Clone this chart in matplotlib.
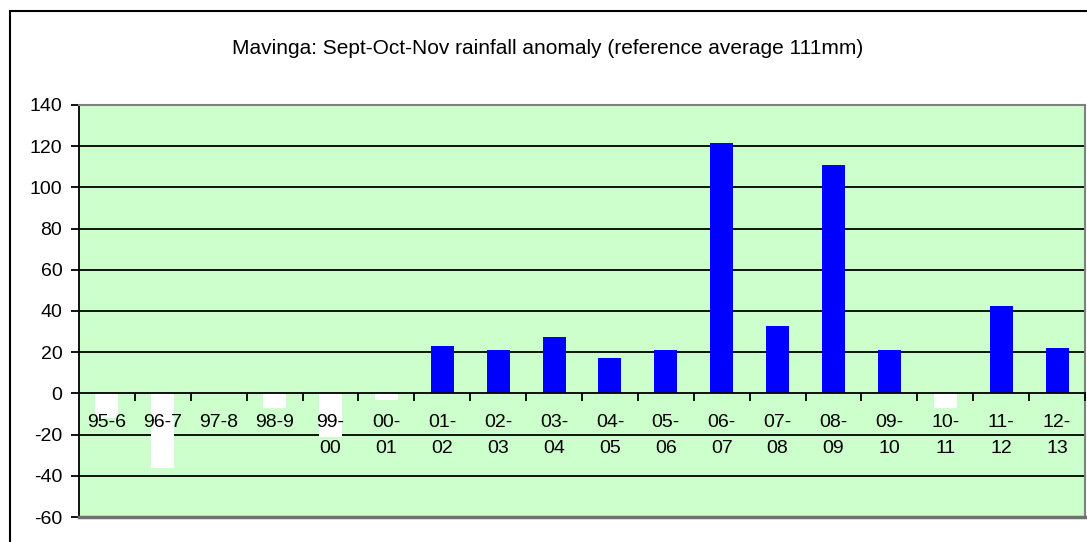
import matplotlib
matplotlib.use("Agg")
import matplotlib.pyplot as plt
from matplotlib.patches import Rectangle
import numpy as np

plt.rcParams["font.family"] = ["Liberation Sans", "DejaVu Sans"]
plt.rcParams["axes.unicode_minus"] = False

seasons = ["95-6", "96-7", "97-8", "98-9", "99-\n00", "00-\n01", "01-\n02", "02-\n03",
           "03-\n04", "04-\n05", "05-\n06", "06-\n07", "07-\n08", "08-\n09", "09-\n10",
           "10-\n11", "11-\n12", "12-\n13"]
anomaly = [-12, -36, 0, -7, -21, -3, 23, 21, 27.5, 17, 21, 121.5, 32.5, 111, 21, -7, 42.5, 22]
yticks = list(range(-60, 141, 20))

fig = plt.figure(figsize=(10.87, 5.42), dpi=100)
ax = fig.add_axes([79 / 1087, 25 / 542, 1006 / 1087, 412 / 542])
ax.set_facecolor("#ccffcc")

x = np.arange(len(seasons))
colors = ["#0000ff" if v > 0 else "white" for v in anomaly]
ax.bar(x, anomaly, width=0.41, color=colors, zorder=3)

ax.set_xlim(-0.5, len(seasons) - 0.5)
ax.set_ylim(-60, 140)
ax.set_yticks(yticks)
for y in yticks[1:-1]:
    if y != 0:
        ax.axhline(y, color="black", lw=1.3, zorder=2)

# category axis sits on the zero line
ax.spines["bottom"].set_position(("data", 0))
ax.spines["bottom"].set_color("black")
ax.spines["bottom"].set_linewidth(1.3)
ax.spines["bottom"].set_zorder(4)
ax.spines["left"].set_color("black")
ax.spines["left"].set_linewidth(1.3)
for s in ["top", "right"]:
    ax.spines[s].set_color("#808080")
    ax.spines[s].set_linewidth(1.5)
# grey frame along the bottom of the plot area
ax.axhline(-60, color="#707070", lw=2.5, zorder=5, clip_on=False)

ax.set_xticks(x + 0.5, minor=False)
ax.set_xticklabels([])
ax.set_xticks(x, minor=True)
ax.set_xticklabels(seasons, minor=True, fontsize=14, linespacing=1.65)
ax.tick_params(axis="x", which="major", direction="out", length=6, width=1.3, color="black")
ax.tick_params(axis="x", which="minor", length=0, pad=15)
ax.tick_params(axis="y", direction="out", length=6, width=1.3, labelsize=14, pad=6)
ax.xaxis.set_zorder(6)

fig.text(548 / 1087, 1 - 48 / 542,
         "Mavinga: Sept-Oct-Nov rainfall anomaly (reference average 111mm)",
         ha="center", va="center", fontsize=15)

fig.add_artist(Rectangle((10 / 1087, -0.1), 1.2, 1.1 - 11 / 542, transform=fig.transFigure,
                         fill=False, edgecolor="black", lw=1.5))

fig.savefig("out.png", dpi=100)
